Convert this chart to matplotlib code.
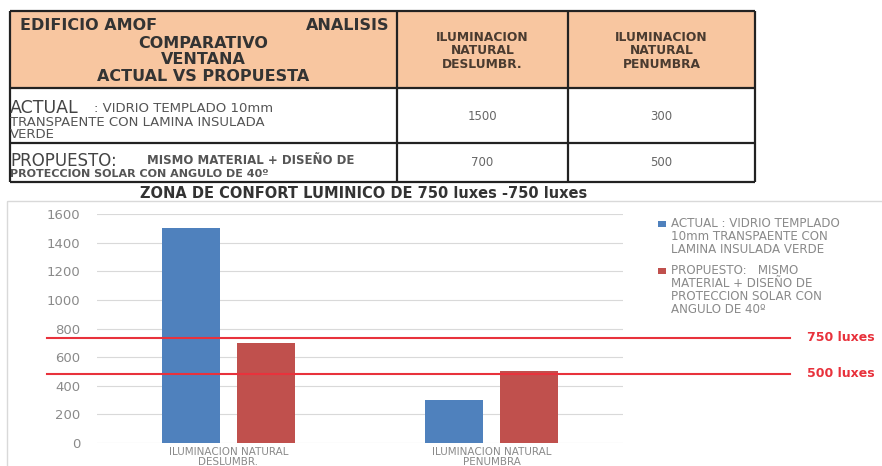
import matplotlib

matplotlib.use("Agg")
import matplotlib.pyplot as plt
from matplotlib.patches import Rectangle

# datos
categorias = ["ILUMINACION NATURAL\nDESLUMBR.", "ILUMINACION NATURAL\nPENUMBRA"]
actual = [1500, 300]
propuesto = [700, 500]
leyenda = [
    "ACTUAL : VIDRIO TEMPLADO\n10mm TRANSPAENTE CON\nLAMINA INSULADA VERDE",
    "PROPUESTO:   MISMO\nMATERIAL + DISEÑO DE\nPROTECCION SOLAR CON\nANGULO DE 40º",
]
niveles_ref = [735, 485]
etiquetas_ref = ["750 luxes", "500 luxes"]
yticks = [0, 200, 400, 600, 800, 1000, 1200, 1400, 1600]

titulo_tabla = "COMPARATIVO\nVENTANA\nACTUAL VS PROPUESTA"
cabeceras = ["ILUMINACION\nNATURAL\nDESLUMBR.", "ILUMINACION\nNATURAL\nPENUMBRA"]
titulo_graf = "ZONA DE CONFORT LUMINICO DE 750 luxes -750 luxes"

AZUL = "#4f81bd"
ROJO = "#c0504d"
LINEA = "#e8323c"
GRIS = "#8a8a8a"
W, H = 882, 466

fig = plt.figure(figsize=(W / 100, H / 100), dpi=100)
fig.patch.set_facecolor("white")

# capa en pixeles para tabla y marco
ov = fig.add_axes([0, 0, 1, 1], zorder=0)
ov.set_xlim(0, W)
ov.set_ylim(H, 0)
ov.axis("off")
ov.patch.set_alpha(0)

# --- tabla ---
x0, x1, x2, x3 = 10, 397, 568, 755
y0, y1, y2, y3 = 11, 88, 143, 182
ov.add_patch(Rectangle((x0, y0), x3 - x0, y1 - y0, facecolor="#f8c6a0", edgecolor="none"))
for y in [y0, y1, y2, y3]:
    ov.plot([x0, x3], [y, y], color="#222222", lw=1.6, solid_capstyle="butt")
for x in [x0, x1, x2, x3]:
    ov.plot([x, x], [y0, y3], color="#222222", lw=1.6, solid_capstyle="butt")

ov.text(20, 25, "EDIFICIO AMOF", fontsize=11.5, fontweight="bold", color="#333333",
        ha="left", va="center")
ov.text(389, 25, "ANALISIS", fontsize=11.5, fontweight="bold", color="#333333",
        ha="right", va="center")
ov.text((x0 + x1) / 2, 60, titulo_tabla, fontsize=11.5, fontweight="bold",
        color="#333333", ha="center", va="center", linespacing=1.15)
for xc, cab in zip([(x1 + x2) / 2, (x2 + x3) / 2], cabeceras):
    ov.text(xc, 51, cab, fontsize=8.8, fontweight="bold", color="#4a3b30",
            ha="center", va="center", linespacing=1.05)

ov.text(10, 108, "ACTUAL", fontsize=12.5, color="#444444", ha="left", va="center")
ov.text(94, 109, ": VIDRIO TEMPLADO 10mm", fontsize=9.5, color="#555555",
        ha="left", va="center")
ov.text(10, 122, "TRANSPAENTE CON LAMINA INSULADA", fontsize=9.5, color="#555555",
        ha="left", va="center")
ov.text(10, 135, "VERDE", fontsize=9.5, color="#555555", ha="left", va="center")

ov.text(10, 161, "PROPUESTO:", fontsize=12, color="#444444", ha="left", va="center")
ov.text(147, 161, "MISMO MATERIAL + DISEÑO DE", fontsize=8.5, fontweight="bold",
        color="#555555", ha="left", va="center")
ov.text(10, 174, "PROTECCION SOLAR CON ANGULO DE 40º", fontsize=8,
        fontweight="bold", color="#555555", ha="left", va="center")

for xc, a, p in zip([(x1 + x2) / 2, (x2 + x3) / 2], actual, propuesto):
    ov.text(xc, 117, str(a), fontsize=8.5, color="#666666", ha="center", va="center")
    ov.text(xc, 163, str(p), fontsize=8.5, color="#666666", ha="center", va="center")

ov.text(364, 194, titulo_graf, fontsize=10.5, fontweight="bold", color="#333333",
        ha="center", va="center")

# marco del grafico
ov.add_patch(Rectangle((7, 201), W, H, facecolor="none", edgecolor="#d9d9d9", lw=1))

# --- grafico de barras ---
ax = fig.add_axes([97 / W, (H - 443) / H, 526 / W, 229 / H], zorder=2)
ax.patch.set_alpha(0)
xs = range(len(categorias))
ancho = 0.223
ax.bar([x - 0.143 for x in xs], actual, width=ancho, color=AZUL, zorder=3)
ax.bar([x + 0.143 for x in xs], propuesto, width=ancho, color=ROJO, zorder=3)
ax.set_xlim(-0.5, 1.5)
ax.set_ylim(0, 1600)
ax.set_yticks(yticks)
ax.set_yticklabels([str(v) for v in yticks])
ax.set_xticks(list(xs))
ax.set_xticklabels(categorias, fontsize=7.5, color=GRIS, linespacing=1.0)
ax.tick_params(axis="y", labelsize=9.5, colors=GRIS, length=0, pad=12)
ax.tick_params(axis="x", length=0, pad=3)
ax.grid(axis="y", color="#d9d9d9", lw=0.8, zorder=0)
for s in ax.spines.values():
    s.set_visible(False)

# lineas de referencia
tr = ax.get_yaxis_transform()
for nivel, txt in zip(niveles_ref, etiquetas_ref):
    ax.plot([-0.095, 1.3175], [nivel, nivel], color=LINEA, lw=1.5, transform=tr,
            clip_on=False, zorder=4)
    ax.text(1.35, nivel, txt, transform=tr, fontsize=9, fontweight="bold",
            color=LINEA, ha="left", va="center", clip_on=False)

# leyenda
for (yl, color, txt) in [(224, AZUL, leyenda[0]), (271, ROJO, leyenda[1])]:
    ov.add_patch(Rectangle((658, yl - 3), 8, 6, facecolor=color, edgecolor="none"))
    ov.text(671, yl - 7, txt, fontsize=8.6, color=GRIS, ha="left", va="top",
            linespacing=1.0)

plt.savefig("out.png", dpi=100)
